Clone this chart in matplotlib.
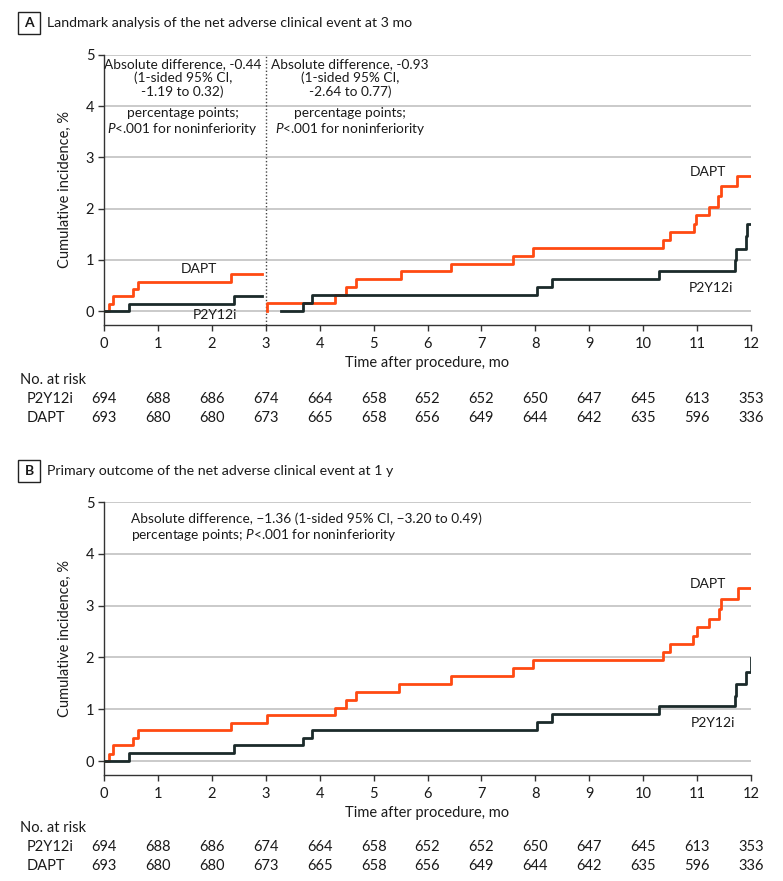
import numpy as np
import matplotlib
matplotlib.use("Agg")
import matplotlib.pyplot as plt
from matplotlib.patches import Rectangle

# ---- data ----
months = list(range(13))
risk_p2y12i = [694, 688, 686, 674, 664, 658, 652, 652, 650, 647, 645, 613, 353]
risk_dapt = [693, 680, 680, 673, 665, 658, 656, 649, 644, 642, 635, 596, 336]

# panel A, 0-3 mo
a1_dapt_t = [0, 0.09, 0.16, 0.53, 0.63, 2.36, 2.93]
a1_dapt_y = [0, 0.144, 0.289, 0.433, 0.577, 0.722, 0.722]
a1_p2y_t = [0, 0.46, 2.42, 2.93]
a1_p2y_y = [0, 0.144, 0.289, 0.289]

# panel A, 3-12 mo landmark
a2_dapt_t = [3.03, 3.03, 4.28, 4.48, 4.67, 5.50, 6.44, 7.58, 7.95, 10.37, 10.49,
             10.94, 10.98, 11.22, 11.38, 11.45, 11.74, 12.0]
a2_dapt_y = [0, 0.155, 0.31, 0.465, 0.62, 0.775, 0.93, 1.085, 1.24, 1.395, 1.55,
             1.71, 1.87, 2.04, 2.24, 2.44, 2.64, 2.64]
a2_p2y_t = [3.28, 3.69, 3.86, 8.04, 8.31, 10.29, 11.70, 11.73, 11.91, 11.93, 12.0]
a2_p2y_y = [0, 0.155, 0.31, 0.465, 0.62, 0.775, 1.0, 1.22, 1.46, 1.70, 1.70]

# panel B, 0-12 mo
b_dapt_t = [0, 0.10, 0.16, 0.53, 0.63, 2.36, 3.03, 4.28, 4.49, 4.67, 5.47, 6.44,
            7.58, 7.95, 10.37, 10.50, 10.92, 11.0, 11.22, 11.40, 11.45, 11.75, 12.0]
b_dapt_y = [0, 0.144, 0.30, 0.45, 0.60, 0.74, 0.89, 1.03, 1.18, 1.33, 1.49, 1.64,
            1.80, 1.95, 2.10, 2.25, 2.42, 2.58, 2.75, 2.94, 3.12, 3.34, 3.34]
b_p2y_t = [0, 0.47, 2.42, 3.70, 3.86, 8.04, 8.31, 10.30, 11.70, 11.73, 11.91, 12.0]
b_p2y_y = [0, 0.15, 0.30, 0.45, 0.60, 0.75, 0.91, 1.06, 1.26, 1.49, 1.71, 1.99]

ORANGE = "#FF4A12"
DARK = "#1B2A2A"
GRID = "#C6C6C6"
TXT = "#1a1a1a"

plt.rcParams["font.family"] = ["Lato", "DejaVu Sans"]
plt.rcParams["mathtext.fontset"] = "custom"
plt.rcParams["mathtext.it"] = "Lato:italic"

fig = plt.figure(figsize=(7.83, 8.81), dpi=100)
W, H = 783.0, 881.0
FS = 10.5


def setup_axes(ax):
    ax.set_xlim(0, 12)
    ax.set_ylim(-0.27, 5)
    ax.set_xticks(months)
    ax.set_yticks(range(6))
    for v in range(6):
        ax.axhline(v, color=GRID, lw=1.3, zorder=0)
    for s in ["top", "right"]:
        ax.spines[s].set_visible(False)
    for s in ["left", "bottom"]:
        ax.spines[s].set_color("#333333")
        ax.spines[s].set_linewidth(1.0)
    ax.tick_params(axis="both", length=4, width=1.0, color="#333333",
                   labelsize=FS, labelcolor=TXT)
    ax.tick_params(axis="x", pad=5)
    ax.tick_params(axis="y", pad=3)
    ax.set_xlabel("Time after procedure, mo", fontsize=FS, color=TXT, labelpad=3)
    ax.set_ylabel("Cumulative incidence, %", fontsize=FS, color=TXT, labelpad=10)


def panel_title(y_px, letter, text):
    fy = 1 - y_px / H
    fig.patches.append(Rectangle((18 / W, fy - 11 / H), 22 / W, 22 / H,
                                 transform=fig.transFigure, fill=False,
                                 edgecolor="#222222", lw=1.0))
    fig.text(29 / W, fy, letter, ha="center", va="center", fontsize=10,
             fontweight="bold", color=TXT)
    fig.text(47 / W, fy, text, ha="left", va="center", fontsize=10.2, color=TXT)


def risk_table(ax, y_px):
    for i, lab in enumerate(["No. at risk", "P2Y12i", "DAPT"]):
        fig.text((20 if i == 0 else 27) / W, 1 - (y_px + 19 * i) / H, lab,
                 ha="left", va="center", fontsize=FS, color=TXT)
    for row, vals in enumerate([risk_p2y12i, risk_dapt]):
        yy = 1 - (y_px + 19 * (row + 1)) / H
        for m, v in zip(months, vals):
            xf = fig.transFigure.inverted().transform(
                ax.transData.transform((m, 0)))[0]
            fig.text(xf, yy, str(v), ha="center", va="center", fontsize=FS,
                     color=TXT)


left = 104 / W
width = (751 - 104) / W
ann = dict(ha="center", va="center", fontsize=9.8, color=TXT, linespacing=1.15)

# ---------- Panel A ----------
axA = fig.add_axes([left, 1 - 325 / H, width, (325 - 55) / H])
setup_axes(axA)
axA.axvline(3, color="#444444", lw=1.0, ls=(0, (1, 1.5)), zorder=1)
axA.step(a1_dapt_t, a1_dapt_y, where="post", color=ORANGE, lw=2, zorder=3)
axA.step(a1_p2y_t, a1_p2y_y, where="post", color=DARK, lw=2, zorder=4)
axA.step(a2_dapt_t, a2_dapt_y, where="post", color=ORANGE, lw=2, zorder=3)
axA.step(a2_p2y_t, a2_p2y_y, where="post", color=DARK, lw=2, zorder=4)
axA.text(1.77, 0.83, "DAPT", ha="center", va="center", fontsize=10, color=TXT)
axA.text(2.05, -0.08, "P2Y12i", ha="center", va="center", fontsize=10, color=TXT)
axA.text(11.21, 2.72, "DAPT", ha="center", va="center", fontsize=10, color=TXT)
axA.text(11.26, 0.46, "P2Y12i", ha="center", va="center", fontsize=10, color=TXT)
axA.text(1.46, 4.55, "Absolute difference, -0.44\n(1-sided 95% CI,\n-1.19 to 0.32)", **ann)
axA.text(1.46, 3.69, "percentage points;\n$P$<.001 for noninferiority", **ann)
axA.text(4.56, 4.55, "Absolute difference, -0.93\n(1-sided 95% CI,\n-2.64 to 0.77)", **ann)
axA.text(4.56, 3.69, "percentage points;\n$P$<.001 for noninferiority", **ann)
panel_title(23, "A", "Landmark analysis of the net adverse clinical event at 3 mo")

# ---------- Panel B ----------
axB = fig.add_axes([left, 1 - 775 / H, width, (775 - 502) / H])
setup_axes(axB)
axB.step(b_dapt_t, b_dapt_y, where="post", color=ORANGE, lw=2, zorder=3)
axB.step(b_p2y_t, b_p2y_y, where="post", color=DARK, lw=2, zorder=4)
axB.text(11.21, 3.42, "DAPT", ha="center", va="center", fontsize=10, color=TXT)
axB.text(11.3, 0.74, "P2Y12i", ha="center", va="center", fontsize=10, color=TXT)
axB.text(0.5, 4.5,
         "Absolute difference, \u22121.36 (1-sided 95% CI, \u22123.20 to 0.49)\n"
         "percentage points; $P$<.001 for noninferiority",
         ha="left", va="center", fontsize=9.8, color=TXT, linespacing=1.2)
panel_title(471, "B", "Primary outcome of the net adverse clinical event at 1 y")

fig.canvas.draw()
risk_table(axA, 380)
risk_table(axB, 828)

fig.savefig("out.png", dpi=100)
